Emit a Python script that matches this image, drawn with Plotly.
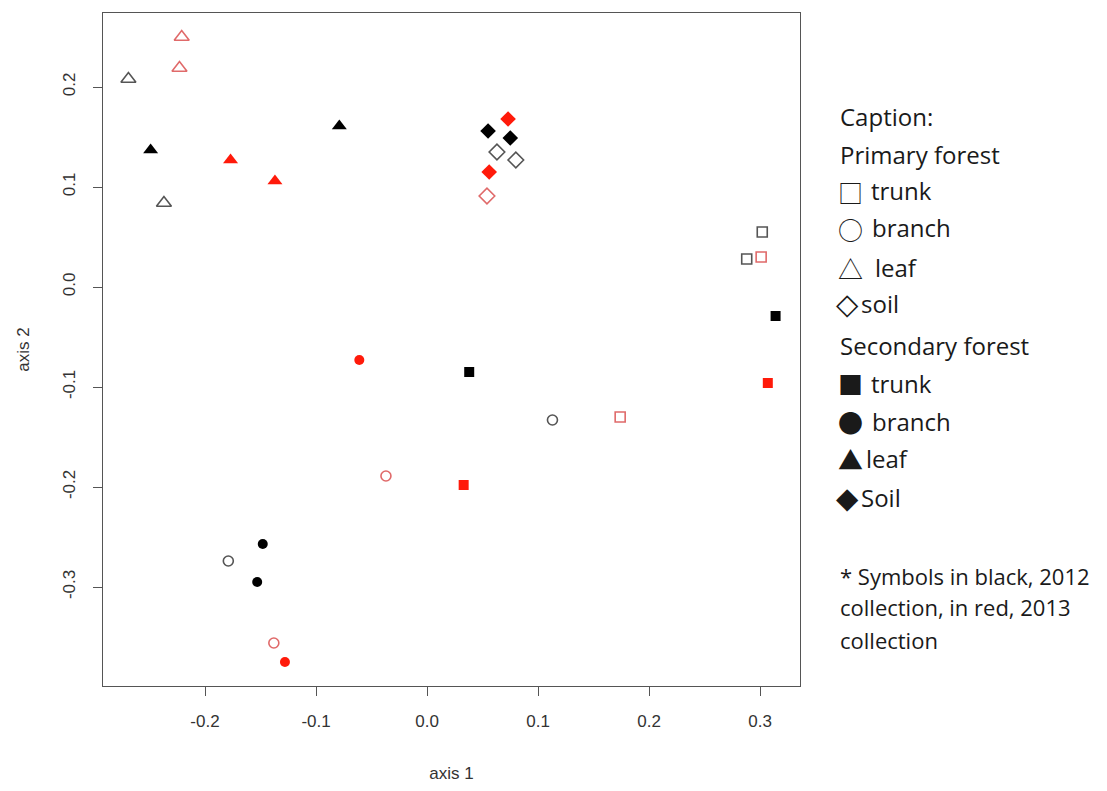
import plotly.graph_objects as go

# ---- data (axis 1, axis 2) ----
# Primary forest (open symbols), 2012 collection (black)
p12_trunk_x = [0.302, 0.288];   p12_trunk_y = [0.055, 0.028]
p12_branch_x = [0.113, -0.179]; p12_branch_y = [-0.133, -0.274]
p12_leaf_x = [-0.269, -0.237];  p12_leaf_y = [0.208, 0.084]
p12_soil_x = [0.063, 0.080];    p12_soil_y = [0.135, 0.127]
# Primary forest (open symbols), 2013 collection (red)
p13_trunk_x = [0.301, 0.174];   p13_trunk_y = [0.030, -0.130]
p13_branch_x = [-0.037, -0.138]; p13_branch_y = [-0.189, -0.356]
p13_leaf_x = [-0.221, -0.223];  p13_leaf_y = [0.250, 0.219]
p13_soil_x = [0.054];           p13_soil_y = [0.091]
# Secondary forest (filled symbols), 2012 collection (black)
s12_trunk_x = [0.314, 0.038];   s12_trunk_y = [-0.029, -0.085]
s12_branch_x = [-0.148, -0.153]; s12_branch_y = [-0.257, -0.295]
s12_leaf_x = [-0.249, -0.079];  s12_leaf_y = [0.137, 0.161]
s12_soil_x = [0.055, 0.075];    s12_soil_y = [0.156, 0.149]
# Secondary forest (filled symbols), 2013 collection (red)
s13_trunk_x = [0.307, 0.033];   s13_trunk_y = [-0.096, -0.198]
s13_branch_x = [-0.061, -0.128]; s13_branch_y = [-0.073, -0.375]
s13_leaf_x = [-0.177, -0.137];  s13_leaf_y = [0.127, 0.106]
s13_soil_x = [0.073, 0.056];    s13_soil_y = [0.168, 0.115]

x_ticks = [-0.2, -0.1, 0.0, 0.1, 0.2, 0.3]
y_ticks = [-0.3, -0.2, -0.1, 0.0, 0.1, 0.2]
x_tick_labels = ["-0.2", "-0.1", "0.0", "0.1", "0.2", "0.3"]
y_tick_labels = ["-0.3", "-0.2", "-0.1", "0.0", "0.1", "0.2"]

heading_lines = ["Caption:", "Primary forest", "Secondary forest"]
legend_symbols = ["□", "○", "△", "◇", "■", "●", "▲", "◆"]
legend_labels = ["trunk", "branch", "leaf", "soil", "trunk", "branch", "leaf", "Soil"]
note_lines = ["* Symbols in black, 2012", "collection, in red, 2013", "collection"]

# ---- styles ----
BLACK_OPEN = "#555555"
RED_OPEN = "#e06a6a"
BLACK_FILL = "#000000"
RED_FILL = "#ff1a0a"

sym = {"trunk": "square", "branch": "circle", "leaf": "triangle-up", "soil": "diamond"}
size_open = {"trunk": 10, "branch": 10, "leaf": 13, "soil": 12}
size_fill = {"trunk": 10, "branch": 10, "leaf": 13, "soil": 12}

groups = [
    ("open", BLACK_OPEN, "trunk", p12_trunk_x, p12_trunk_y),
    ("open", BLACK_OPEN, "branch", p12_branch_x, p12_branch_y),
    ("open", BLACK_OPEN, "leaf", p12_leaf_x, p12_leaf_y),
    ("open", BLACK_OPEN, "soil", p12_soil_x, p12_soil_y),
    ("open", RED_OPEN, "trunk", p13_trunk_x, p13_trunk_y),
    ("open", RED_OPEN, "branch", p13_branch_x, p13_branch_y),
    ("open", RED_OPEN, "leaf", p13_leaf_x, p13_leaf_y),
    ("open", RED_OPEN, "soil", p13_soil_x, p13_soil_y),
    ("fill", BLACK_FILL, "trunk", s12_trunk_x, s12_trunk_y),
    ("fill", BLACK_FILL, "branch", s12_branch_x, s12_branch_y),
    ("fill", BLACK_FILL, "leaf", s12_leaf_x, s12_leaf_y),
    ("fill", BLACK_FILL, "soil", s12_soil_x, s12_soil_y),
    ("fill", RED_FILL, "trunk", s13_trunk_x, s13_trunk_y),
    ("fill", RED_FILL, "branch", s13_branch_x, s13_branch_y),
    ("fill", RED_FILL, "leaf", s13_leaf_x, s13_leaf_y),
    ("fill", RED_FILL, "soil", s13_soil_x, s13_soil_y),
]

fig = go.Figure()
for kind, color, tissue, xs, ys in groups:
    if kind == "open":
        marker = dict(symbol=sym[tissue] + "-open", size=size_open[tissue], color=color,
                      line=dict(color=color, width=1.6))
    else:
        marker = dict(symbol=sym[tissue], size=size_fill[tissue], color=color,
                      line=dict(color=color, width=0))
    fig.add_trace(go.Scatter(x=xs, y=ys, mode="markers", marker=marker,
                             showlegend=False, hoverinfo="skip"))

# page has an 8px body margin; the figure is sized to fit inside the window
OFF = 8
W, H = 1107 - 2 * OFF, 791 - 2 * OFF
L, R, T, B = 103, 800, 13, 686   # plot box in page pixels

axis_font = dict(family="Liberation Sans, Arial, sans-serif", size=17, color="#333333")
title_font = dict(family="Liberation Sans, Arial, sans-serif", size=17, color="#333333")

fig.update_xaxes(range=[-0.2919, 0.3360], tickvals=x_ticks, ticktext=x_tick_labels,
                 ticks="outside", ticklen=9, tickcolor="#555555", tickwidth=1,
                 showgrid=False, zeroline=False, showline=True, linecolor="#555555",
                 linewidth=1.2, mirror=True, tickfont=axis_font, ticklabelstandoff=10,
                 automargin=False,
                 title=dict(text="axis 1", font=title_font, standoff=43))
fig.update_yaxes(range=[-0.399, 0.274], tickvals=y_ticks, ticktext=y_tick_labels,
                 ticks="outside", ticklen=9, tickcolor="#555555", tickwidth=1,
                 showgrid=False, zeroline=False, showline=True, linecolor="#555555",
                 linewidth=1.2, mirror=True, tickfont=axis_font, tickangle=-90,
                 ticklabelstandoff=11, automargin=False,
                 title=dict(text="axis 2", font=title_font, standoff=26))


def px(xp):
    return (xp - L) / (R - L)


def py(yp):
    return (B - yp) / (B - T)


TEXT_FONT = dict(family="Open Sans, Noto Sans, sans-serif", size=24, color="#1a1a1a")
SYM_FONT = dict(family="Noto Sans CJK SC, DejaVu Sans, sans-serif", size=25, color="#1a1a1a")
DIA_FONT = dict(family="DejaVu Sans, sans-serif", size=29, color="#1a1a1a")

annots = []
for txt, yp in zip(heading_lines, [116, 154, 345]):
    annots.append(dict(text=txt, xref="paper", yref="paper", x=px(838), y=py(yp),
                       xanchor="left", yanchor="middle", showarrow=False, font=TEXT_FONT))

sym_y = [191, 228, 267, 303, 383, 421, 458, 497]
label_x = [871, 872, 875, 861, 871, 872, 866, 861]
for s, lab, yp, lx in zip(legend_symbols, legend_labels, sym_y, label_x):
    is_dia = s in ("◇", "◆")
    annots.append(dict(text=s, xref="paper", yref="paper",
                       x=px(834 if is_dia else 836), y=py(yp + 1),
                       xanchor="left", yanchor="middle", showarrow=False,
                       font=DIA_FONT if is_dia else SYM_FONT))
    annots.append(dict(text=lab, xref="paper", yref="paper", x=px(lx - 2), y=py(yp),
                       xanchor="left", yanchor="middle", showarrow=False, font=TEXT_FONT))

for txt, yp in zip(note_lines, [576, 607, 640]):
    annots.append(dict(text=txt, xref="paper", yref="paper", x=px(838), y=py(yp),
                       xanchor="left", yanchor="middle", showarrow=False,
                       font=dict(family="Open Sans, Noto Sans, sans-serif", size=22,
                                 color="#1a1a1a")))

fig.update_layout(width=W, height=H, autosize=False,
                  margin=dict(l=L - OFF, r=W - (R - OFF), t=T - OFF, b=H - (B - OFF),
                              autoexpand=False),
                  plot_bgcolor="white", paper_bgcolor="white",
                  annotations=annots)

fig.write_html("out.html")
